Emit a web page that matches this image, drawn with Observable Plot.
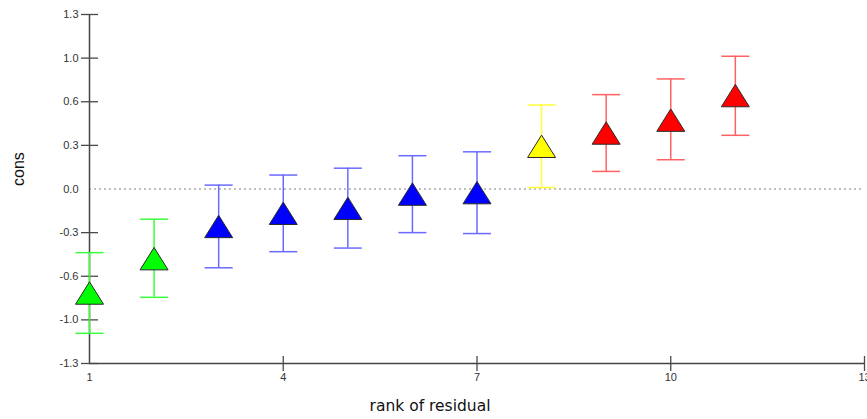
<!DOCTYPE html>
<html>
<head>
<meta charset="utf-8">
<script src="https://cdn.jsdelivr.net/npm/d3@7"></script>
<script src="https://cdn.jsdelivr.net/npm/@observablehq/plot@0.6"></script>
<style>
  html, body { margin: 0; padding: 0; background: #fff; }
  #chart { width: 867px; height: 419px; overflow: hidden; }
</style>
</head>
<body>
<div id="chart"></div>
<script>
// ---- data ----
const rank     = [1, 2, 3, 4, 5, 6, 7, 8, 9, 10, 11];
const estimate = [-0.775, -0.519, -0.279, -0.181, -0.144, -0.038, -0.027, 0.318, 0.417, 0.513, 0.696];
const lower    = [-1.075, -0.807, -0.587, -0.467, -0.440, -0.325, -0.332, 0.011, 0.131, 0.218, 0.400];
const upper    = [-0.474, -0.225, 0.029, 0.104, 0.155, 0.248, 0.277, 0.626, 0.703, 0.820, 0.989];
const group    = ["green", "green", "blue", "blue", "blue", "blue", "blue", "yellow", "red", "red", "red"];

const yTickValues = [-1.3, -0.975, -0.65, -0.325, 0, 0.325, 0.65, 0.975, 1.3];
const yTickLabels = ["-1.3", "-1.0", "-0.6", "-0.3", "0.0", "0.3", "0.6", "1.0", "1.3"];
const xTickValues = [1, 4, 7, 10, 13];
const xTickLabels = ["1", "4", "7", "10", "13"];

const fillColors = {green: "#00ff00", blue: "#0000ff", yellow: "#ffff00", red: "#ff0000"};
const barColors  = {green: "#3cff3c", blue: "#6a6aff", yellow: "#ffff3a", red: "#ff6262"};

const data = rank.map((r, i) => ({rank: r, est: estimate[i], lo: lower[i], hi: upper[i], g: group[i]}));

// ---- custom symbols ----
const hline = {draw(ctx, size) { const r = Math.sqrt(size / Math.PI); ctx.moveTo(-r, 0); ctx.lineTo(r, 0); }};
const vline = {draw(ctx, size) { const r = Math.sqrt(size / Math.PI); ctx.moveTo(0, -r); ctx.lineTo(0, r); }};
const tri = {draw(ctx, size) {
  const r = Math.sqrt(size / Math.PI);
  const h = r * 0.8;
  ctx.moveTo(0, -h); ctx.lineTo(r, h); ctx.lineTo(-r, h); ctx.closePath();
}};

const plot = Plot.plot({
  width: 867,
  height: 419,
  marginLeft: 89,
  marginRight: 3,
  marginTop: 14,
  marginBottom: 56,
  style: {fontFamily: "'Liberation Sans', Arial, sans-serif", background: "#fff", overflow: "visible"},
  x: {domain: [1, 13]},
  y: {domain: [-1.3, 1.3]},
  marks: [
    // zero reference line
    Plot.ruleY([0], {stroke: "#aaaaaa", strokeWidth: 1.5, strokeDasharray: "2,3"}),
    // axes lines
    Plot.ruleX([1], {y1: -1.3, y2: 1.3, stroke: "#444", strokeWidth: 1.5}),
    Plot.ruleY([-1.3], {stroke: "#444", strokeWidth: 1.5}),
    // axis tick marks (crossing the axis lines)
    Plot.dot(yTickValues.filter(v => v !== 0), {x: () => 1, y: d => d, symbol: hline, r: 8.5, stroke: "#4a4a4a", strokeWidth: 1.3}),
    Plot.dot(xTickValues.filter(v => v !== 1), {x: d => d, y: () => -1.3, symbol: vline, r: 7.5, stroke: "#4a4a4a", strokeWidth: 1.3}),
    // tick labels
    Plot.axisY({ticks: yTickValues, tickFormat: d => yTickLabels[yTickValues.indexOf(d)], tickSize: 0, tickPadding: 11, fontSize: 11, fill: "#333", label: null}),
    Plot.axisX({ticks: xTickValues, tickFormat: d => xTickLabels[xTickValues.indexOf(d)], tickSize: 0, tickPadding: 10, fontSize: 11, fill: "#333", label: null}),
    // error bars
    Plot.ruleX(data, {x: "rank", y1: "lo", y2: "hi", stroke: d => barColors[d.g], strokeWidth: 1.5}),
    Plot.dot(data, {x: "rank", y: "lo", symbol: hline, r: 14, stroke: d => barColors[d.g], strokeWidth: 1.5}),
    Plot.dot(data, {x: "rank", y: "hi", symbol: hline, r: 14, stroke: d => barColors[d.g], strokeWidth: 1.5}),
    // estimates
    Plot.dot(data, {x: "rank", y: "est", symbol: tri, r: 14, fill: d => fillColors[d.g], stroke: "#2a2a2a", strokeWidth: 1}),
    // axis titles
    Plot.text(["cons"], {frameAnchor: "left", dx: -71, dy: -3, rotate: -90, fontSize: 16, fill: "#111", fontFamily: "'Liberation Sans', Arial, sans-serif"}),
    Plot.text(["rank of residual"], {frameAnchor: "bottom", dx: -47, dy: 47, fontSize: 15.5, fill: "#111", fontFamily: "'DejaVu Sans', Verdana, sans-serif"})
  ]
});
document.getElementById("chart").appendChild(plot);
</script>
</body>
</html>
